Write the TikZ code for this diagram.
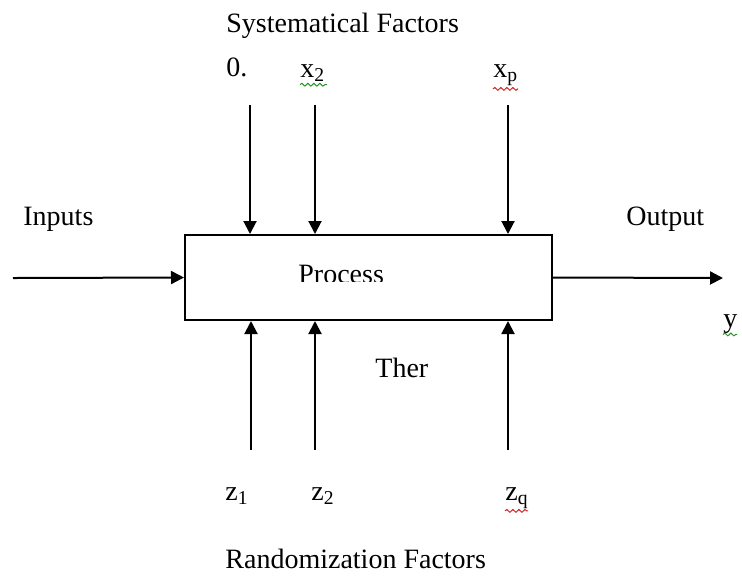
\documentclass[tikz,border=0pt]{standalone}
\usepackage{fontspec}
\setmainfont{Liberation Serif}
\usetikzlibrary{arrows.meta,positioning,decorations.pathmorphing}
\definecolor{spellgreen}{RGB}{40,150,40}
\definecolor{spellred}{RGB}{220,30,30}

\begin{document}
\begin{tikzpicture}[
  x=0.5pt, y=-0.5pt,
  lbl/.style={anchor=base west, inner sep=0pt, font=\fontsize{14}{16}\selectfont},
  flow/.style={-{Triangle[length=6.5pt, width=6.5pt]}, line width=1pt},
  spell/.style={decorate, decoration={snake, amplitude=0.7pt, segment length=3pt}, line width=0.5pt},
  >=Stealth
]
  \useasboundingbox (0,0) rectangle (742,580);

  % Process block
  \node[draw, line width=1pt, minimum width=183.5pt, minimum height=42.5pt, inner sep=0pt] (proc) at (368.5,277.5) {};
  \begin{scope}
    \clip (proc.north west) rectangle (proc.east |- 0,281);
    \node[lbl] (proclbl) at (298,283) {Process};
  \end{scope}

  % Headings
  \node[lbl] (sysf) at (226,32) {Systematical Factors};
  \node[lbl] (randf) at (225,568) {Randomization Factors};
  \node[lbl] (inlbl) at (23,225) {Inputs};
  \node[lbl] (outlbl) at (626,225) {Output};
  \node[lbl] (ylbl) at (723,327) {y};
  \node[lbl] (ther) at (375,377) {Ther};

  % Systematical factor labels
  \node[lbl] (x1lbl) at (226,76) {0.};
  \node[lbl] (x2lbl) at (300,77) {x\textsubscript{2}};
  \node[lbl] (xplbl) at (493,77) {x\textsubscript{p}};

  % Randomization factor labels
  \node[lbl] (z1lbl) at (225,500) {z\textsubscript{1}};
  \node[lbl] (z2lbl) at (311,500) {z\textsubscript{2}};
  \node[lbl] (zqlbl) at (505,500) {z\textsubscript{q}};

  % Free ends of the connectors
  \coordinate (in) at (13,278);
  \coordinate (out) at (723,278);
  \coordinate (t1) at (250,105);
  \coordinate (t2) at (315,105);
  \coordinate (tp) at (508,105);
  \coordinate (b1) at (251,450);
  \coordinate (b2) at (315,450);
  \coordinate (bq) at (508,450);

  % Input and output
  \draw[flow] (in) -- (proc.west);
  \draw[flow] (proc.east) -- (out);

  % Factors acting on the process
  \draw[flow] (t1) -- (t1 |- proc.north);
  \draw[flow] (t2) -- (t2 |- proc.north);
  \draw[flow] (tp) -- (tp |- proc.north);
  \draw[flow] (b1) -- (b1 |- proc.south);
  \draw[flow] (b2) -- (b2 |- proc.south);
  \draw[flow] (bq) -- (bq |- proc.south);

  % Spelling marks
  \draw[spell, spellgreen] (x2lbl.south west) ++(0,3) -- ++(27,0);
  \draw[spell, spellred] (xplbl.south west) ++(0,3) -- ++(25,0);
  \draw[spell, spellred] (zqlbl.south west) ++(0,2) -- ++(23,0);
  \draw[spell, spellgreen] (ylbl.south west) ++(0,1) -- ++(14,0);
\end{tikzpicture}
\end{document}
